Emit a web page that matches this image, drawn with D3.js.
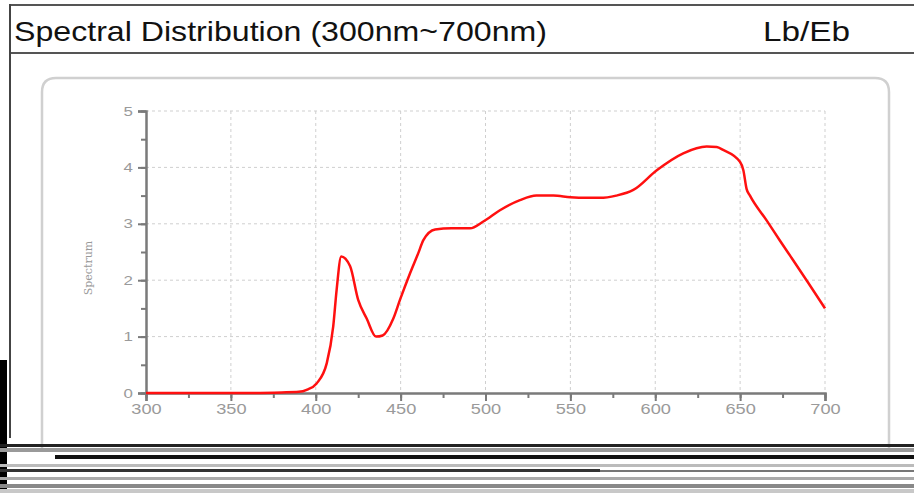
<!DOCTYPE html>
<html><head><meta charset="utf-8">
<script src="https://cdn.jsdelivr.net/npm/d3@7/dist/d3.min.js"></script>
<style>html,body{margin:0;padding:0;background:#fff;overflow:hidden}</style>
</head><body><svg id="c" width="914" height="493"></svg>
<script>
const wavelengths = [300,320,340,360,380,390,395,400.5,406.5,410.3,412.3,415,420.2,425,430,435.5,439.4,445.7,449.6,455.5,460.4,463.4,470.3,480,490.9,498.7,508.5,520.3,530,540,550,560,567.4,577,587.1,600.9,616.5,630.3,636.2,640,649.9,651.9,653.8,655.8,665.6,673.5,680,690,700];
const spectrum =    [0,0,0,0,0.01,0.02,0.06,0.17,0.53,1.18,1.83,2.42,2.25,1.65,1.32,1.0,1.02,1.32,1.65,2.12,2.48,2.71,2.9,2.92,2.92,3.04,3.24,3.42,3.5,3.5,3.47,3.46,3.46,3.5,3.6,3.95,4.25,4.37,4.36,4.31,4.1,3.95,3.62,3.5,3.06,2.7,2.41,1.96,1.5];
const xTicks = [300,350,400,450,500,550,600,650,700];
const yTicks = [0,1,2,3,4,5];
const titleText = "Spectral Distribution (300nm~700nm)";
const unitText = "Lb/Eb";
const yLabel = "Spectrum";

const svg = d3.select("#c");
const sans = "Liberation Sans, Arial, sans-serif";
// outer frame
svg.append("line").attr("x1",9).attr("x2",914).attr("y1",5).attr("y2",5).attr("stroke","#555").attr("stroke-width",2);
svg.append("line").attr("x1",9).attr("x2",914).attr("y1",53).attr("y2",53).attr("stroke","#555").attr("stroke-width",2);
svg.append("line").attr("x1",10).attr("x2",10).attr("y1",4).attr("y2",438).attr("stroke","#444").attr("stroke-width",2);
svg.append("text").attr("x",14).attr("y",41).attr("font-family",sans).attr("font-size",28.5).attr("fill","#111")
  .attr("textLength",533).attr("lengthAdjust","spacingAndGlyphs").text(titleText);
svg.append("text").attr("x",763).attr("y",41).attr("font-family",sans).attr("font-size",28.5).attr("fill","#111")
  .attr("textLength",87).attr("lengthAdjust","spacingAndGlyphs").text(unitText);
// inner panel
svg.append("path").attr("d","M42,450 L42,92 Q42,78 56,78 L875,78 Q889,78 889,92 L889,450").attr("fill","none").attr("stroke","#d0d0d0").attr("stroke-width",2.5);

const x = d3.scaleLinear().domain([300,700]).range([146,825]);
const y = d3.scaleLinear().domain([0,5]).range([393,111]);

// grid
const g = svg.append("g");
g.selectAll(".gx").data(xTicks.slice(1)).enter().append("line")
  .attr("x1",d=>x(d)).attr("x2",d=>x(d)).attr("y1",y(5)).attr("y2",y(0))
  .attr("stroke","#cfcfcf").attr("stroke-dasharray","3,3");
g.selectAll(".gy").data(yTicks.slice(1)).enter().append("line")
  .attr("x1",x(300)).attr("x2",x(700)).attr("y1",d=>y(d)).attr("y2",d=>y(d))
  .attr("stroke","#cfcfcf").attr("stroke-dasharray","3,3");

// axes
const axCol = "#7a7a7a";
const xMinor = d3.range(300,701,25);
const xa = svg.append("g").attr("transform","translate(0,393)");
xa.call(d3.axisBottom(x).tickValues(xMinor).tickSize(5).tickFormat(""));
xa.selectAll(".tick line").attr("stroke",axCol).attr("stroke-width",2);
xa.select(".domain").remove();
const xb = svg.append("g").attr("transform","translate(0,393)");
xb.call(d3.axisBottom(x).tickValues(xTicks).tickSize(8).tickPadding(3).tickFormat(d3.format("d")));
xb.select(".domain").attr("stroke",axCol).attr("stroke-width",2.5);
xb.selectAll(".tick line").attr("stroke",axCol).attr("stroke-width",2);
xb.selectAll(".tick text").attr("fill","#9a9a9a").attr("font-size",14).attr("font-family",sans)
  .attr("transform","scale(1.3,1)");

const yMinor = d3.range(0,5.01,0.5);
const ya = svg.append("g").attr("transform","translate(146,0)");
ya.call(d3.axisLeft(y).tickValues(yMinor).tickSize(5).tickFormat(""));
ya.selectAll(".tick line").attr("stroke",axCol).attr("stroke-width",2);
ya.select(".domain").remove();
const yb = svg.append("g").attr("transform","translate(146,0)");
yb.call(d3.axisLeft(y).tickValues(yTicks).tickSize(8).tickPadding(4).tickFormat(d3.format("d")));
yb.select(".domain").attr("stroke",axCol).attr("stroke-width",2.5);
yb.selectAll(".tick line").attr("stroke",axCol).attr("stroke-width",2);
yb.selectAll(".tick text").attr("fill","#9a9a9a").attr("font-size",13).attr("font-family",sans)
  .attr("x",0).attr("transform","translate(-13,0) scale(1.3,1)");

svg.append("text").attr("transform","translate(92,268) rotate(-90)").attr("text-anchor","middle")
  .attr("font-size",11).attr("fill","#999").attr("font-family","DejaVu Serif, serif").text(yLabel);

// curve
const line = d3.line().x((d,i)=>x(wavelengths[i])).y(d=>y(d)).curve(d3.curveMonotoneX);
svg.append("path").datum(spectrum).attr("d",line).attr("fill","none").attr("stroke","#ff1010").attr("stroke-width",2.5).attr("stroke-linejoin","round");

// scan noise at bottom (decoration)
const noise = svg.append("g");
noise.append("rect").attr("x",0).attr("y",360).attr("width",7).attr("height",133).attr("fill","#000");
const bands = [[0,444,914,3,"#222"],[0,448,914,4,"#9a9a9a"],[55,455,859,4,"#111"],[0,464,914,3,"#bbb"],[0,469,600,3,"#333"],[600,470,314,2,"#777"],[0,477,914,3,"#aaa"],[0,484,914,4,"#888"],[0,489,914,4,"#c8c8c8"]];
bands.forEach(b=>noise.append("rect").attr("x",b[0]).attr("y",b[1]).attr("width",b[2]).attr("height",b[3]).attr("fill",b[4]));
</script></body></html>
